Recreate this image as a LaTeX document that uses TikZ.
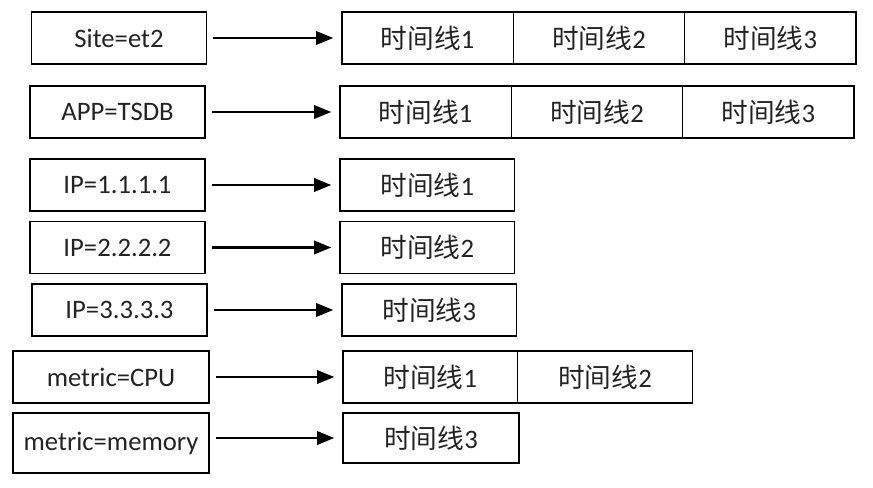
\documentclass[tikz,border=0pt]{standalone}
\usepackage{fontspec}
\setmainfont[Numbers=Lining]{Carlito}
\newfontfamily\cjk{Noto Sans CJK SC}
\usetikzlibrary{positioning, arrows.meta}
\definecolor{TxtGray}{RGB}{35,35,35}
\newcommand{\tline}[1]{{\cjk 时间线}#1}

\begin{document}
\begin{tikzpicture}[x=0.75pt, y=-0.75pt,
          keybox/.style={rectangle, draw=black, line width=1.1pt,
                         minimum width=131pt, minimum height=39pt,
                         font=\fontsize{20}{24}\selectfont, text=TxtGray},
          cell/.style={rectangle, draw=black, line width=1.1pt,
                       minimum width=128.5pt, minimum height=39pt,
                       outer sep=0pt, anchor=west,
                       font=\fontsize{20}{24}\selectfont, text=TxtGray},
          arr/.style={-{Triangle[length=13pt, width=10pt]}, line width=2pt,
                      shorten <=4.5pt, shorten >=6.5pt}
        ]
        \useasboundingbox (0,0) rectangle (873,488);

        % Tag keys
        \node[keybox] (site) at (119, 38)    {Site=et2};
        \node[keybox] (app)  at (117.5, 112) {APP=TSDB};
        \node[keybox] (ip1)  at (117.5, 185) {IP=1.1.1.1};
        \node[keybox] (ip2)  at (117.5, 247.5) {IP=2.2.2.2};
        \node[keybox] (ip3)  at (119.5, 310) {IP=3.3.3.3};
        \node[keybox, minimum width=147pt] (cpu) at (111, 377)
              {metric=CPU};
        \node[keybox, minimum width=147pt, minimum height=45pt]
              (mem) at (111, 443) {metric=memory};

        % Time series lists
        \node[cell] (site1) at (342, 38) {\tline{1}};
        \node[cell, right=0pt of site1] (site2) {\tline{2}};
        \node[cell, right=0pt of site2] (site3) {\tline{3}};

        \node[cell] (app1) at (340, 112) {\tline{1}};
        \node[cell, right=0pt of app1] (app2) {\tline{2}};
        \node[cell, right=0pt of app2] (app3) {\tline{3}};

        \node[cell, minimum width=131pt] (ipa) at (340, 185)   {\tline{1}};
        \node[cell, minimum width=131pt] (ipb) at (340, 247.5) {\tline{2}};
        \node[cell, minimum width=131pt] (ipc) at (342, 310)   {\tline{3}};

        \node[cell, minimum width=131pt] (cpu1) at (343, 377) {\tline{1}};
        \node[cell, minimum width=131pt, right=0pt of cpu1]
              (cpu2) {\tline{2}};

        \node[cell, minimum width=132pt, minimum height=37.5pt]
              (mem1) at (343, 438) {\tline{3}};

        % Index arrows
        \draw[arr] (site.east) -- (site1.west);
        \draw[arr] (app.east)  -- (app1.west);
        \draw[arr] (ip1.east)  -- (ipa.west);
        \draw[arr] (ip2.east)  -- (ipb.west);
        \draw[arr] (ip3.east)  -- (ipc.west);
        \draw[arr] (cpu.east)  -- (cpu1.west);
        \draw[arr] (mem.east |- mem1.west) -- (mem1.west);
      \end{tikzpicture}
\end{document}
